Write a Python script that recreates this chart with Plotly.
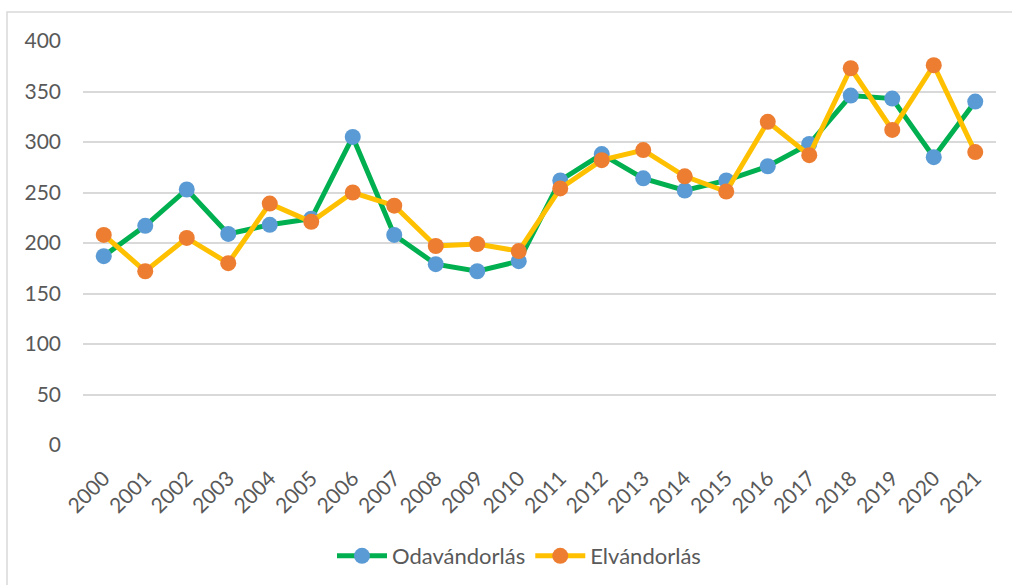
import plotly.graph_objects as go

years = [str(y) for y in range(2000, 2022)]
odavandorlas = [187, 217, 253, 209, 218, 224, 305, 208, 179, 172, 182,
                262, 288, 264, 252, 262, 276, 298, 346, 343, 285, 340]
elvandorlas = [208, 172, 205, 180, 239, 221, 250, 237, 197, 199, 192,
               254, 282, 292, 266, 251, 320, 287, 373, 312, 376, 290]
y_ticks = [0, 50, 100, 150, 200, 250, 300, 350, 400]

FONT = "Lato"
TXT = "#595959"
GRID = "#D9D9D9"

fig = go.Figure()
fig.add_trace(go.Scatter(
    x=years, y=odavandorlas, name="Odavándorlás", mode="lines+markers",
    line=dict(color="#00B050", width=5),
    marker=dict(color="#5B9BD5", size=16, line=dict(width=0)),
))
fig.add_trace(go.Scatter(
    x=years, y=elvandorlas, name="Elvándorlás", mode="lines+markers",
    line=dict(color="#FFC000", width=5),
    marker=dict(color="#ED7D31", size=16, line=dict(width=0)),
))

fig.update_layout(
    width=1012, height=585,
    margin=dict(l=83, r=16, t=41, b=140, autoexpand=False),
    paper_bgcolor="white", plot_bgcolor="white",
    font=dict(family=FONT, size=21, color=TXT),
    showlegend=True,
    legend=dict(orientation="h", xref="container", x=519 / 1012, xanchor="center",
                yref="container", y=1 - 556 / 585, yanchor="middle",
                font=dict(family=FONT, size=22, color=TXT), itemwidth=50,
                bgcolor="rgba(0,0,0,0)"),
    xaxis=dict(type="category", range=[-0.5, 21.5], showgrid=False, zeroline=False,
               showline=False, ticks="", tickangle=-45, ticklabelstandoff=16,
               automargin=False,
               tickfont=dict(family=FONT, size=21, color=TXT)),
    yaxis=dict(range=[0, 400], tickvals=y_ticks, showgrid=True, gridcolor=GRID,
               gridwidth=1.5, zeroline=False, showline=False, ticks="",
               ticklabelstandoff=21, automargin=False,
               tickfont=dict(family=FONT, size=21, color=TXT)),
    shapes=[dict(type="rect", xref="paper", yref="paper",
                 x0=(7 - 83) / 913, x1=1.2, y0=-0.6, y1=(445 - 12) / 404,
                 line=dict(color=GRID, width=1.5), fillcolor="rgba(0,0,0,0)",
                 layer="below")],
)

fig.write_html("out.html", config={"displayModeBar": False},
               post_script="document.body.style.margin='0';document.body.style.overflow='hidden';")
